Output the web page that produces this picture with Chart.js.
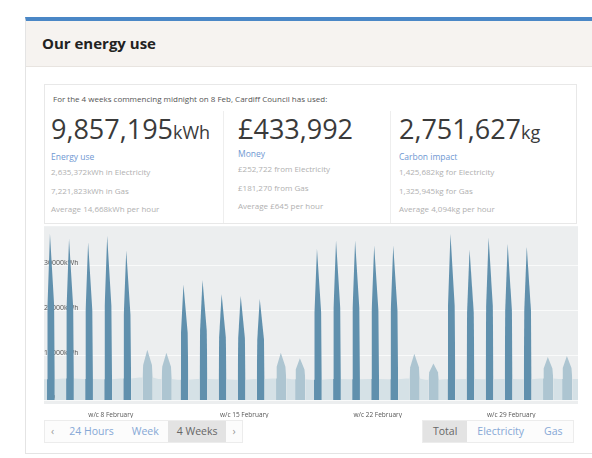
<!DOCTYPE html>
<html>
<head>
<meta charset="utf-8">
<script src="https://cdn.jsdelivr.net/npm/chart.js@4"></script>
<style>
  html,body{margin:0;padding:0;background:#fff;width:592px;height:458px;overflow:hidden;font-family:"Open Sans",sans-serif;}
  .card{position:absolute;left:25px;top:17px;width:580px;height:432px;border:1px solid #e4e4e4;border-top:4px solid #4a87c6;background:#fff;}
  .head{height:45px;background:#f6f3f0;border-bottom:1px solid #e8e4e0;}
  .head h2{margin:0;position:absolute;left:16px;top:12px;font-size:15px;font-weight:700;color:#222;}
  .stats{position:absolute;left:44px;top:84px;width:531px;height:138px;border:1px solid #e8e8e8;background:#fff;}
  .intro{position:absolute;left:8px;top:8px;font-size:8px;color:#555;white-space:nowrap;}
  .col{position:absolute;top:26px;height:112px;}
  .col.c2,.col.c3{border-left:1px solid #eee;}
  .big{font-size:27px;color:#3a3a3a;white-space:nowrap;line-height:36px;}
  .big small{font-size:18px;}
  .lbl{font-size:8.5px;color:#6f98d2;line-height:13px;}
  .sub{font-size:8px;color:#b0b0b0;line-height:18.5px;white-space:nowrap;}
  #wrap{position:absolute;left:44px;top:222px;width:534px;height:196px;}
  .ctl{position:absolute;top:420px;height:21px;border:1px solid #ececec;background:#fcfcfc;font-size:10.5px;color:#86a8d6;line-height:21px;white-space:nowrap;}
  .ctl span{display:inline-block;padding:0 9px;}
  .ctl .on{background:#e3e3e3;color:#666;}
  .ctl .ar{color:#999;padding:0 6px;}
  .ctl.r span{padding:0 10px;}
</style>
</head>
<body>
<div class="card"><div class="head"><h2>Our energy use</h2></div></div>
<div class="stats">
  <div class="intro">For the 4 weeks commencing midnight on 8 Feb, Cardiff Council has used:</div>
  <div class="col c1" style="left:6px;width:170px;">
    <div class="big">9,857,195<small>kWh</small></div>
    <div class="lbl">Energy use</div>
    <div class="sub">2,635,372kWh in Electricity</div>
    <div class="sub">7,221,823kWh in Gas</div>
    <div class="sub">Average 14,668kWh per hour</div>
  </div>
  <div class="col c2" style="left:178px;width:166px;padding-left:14px;">
    <div class="big">£433,992</div>
    <div class="lbl">Money</div>
    <div class="sub">£252,722 from Electricity</div>
    <div class="sub">£181,270 from Gas</div>
    <div class="sub">Average £645 per hour</div>
  </div>
  <div class="col c3" style="left:345px;width:180px;padding-left:8px;">
    <div class="big">2,751,627<small>kg</small></div>
    <div class="lbl">Carbon impact</div>
    <div class="sub">1,425,682kg for Electricity</div>
    <div class="sub">1,325,945kg for Gas</div>
    <div class="sub">Average 4,094kg per hour</div>
  </div>
</div>
<div id="wrap"><canvas id="c"></canvas></div>
<div class="ctl" style="left:44px;"><span class="ar">‹</span><span>24 Hours</span><span>Week</span><span class="on">4 Weeks</span><span class="ar">›</span></div>
<div class="ctl r" style="left:422px;"><span class="on">Total</span><span>Electricity</span><span>Gas</span></div>
<script>
// 4 weeks from Mon 8 Feb, one value per day
const weekLabels=['w/c 8 February','w/c 15 February','w/c 22 February','w/c 29 February'];
const peakKwh=[
  37000,35900,35100,36600,33300,11200,10500,
  25700,26700,23600,23200,22500,10500,9300,
  33700,35500,35500,34400,34400,10300,8100,
  37000,33500,36200,34800,34200,9600,9800
];
// level where the spike stops being a straight column and starts to taper
const shoulderKwh=[
  21000,20500,20000,21000,19000,7800,7400,
  15000,15500,14000,13800,13500,7400,6800,
  19500,20500,20500,20000,20000,7300,6200,
  21000,19500,21000,20000,20000,7000,7100
];
const nightKwh=[
  4600,4800,4700,4600,4800,5000,4700,
  4500,4700,4600,4500,4700,4800,4600,
  4500,4700,4600,4700,4600,4800,4500,
  4600,4700,4600,4700,4600,4800,4700
];
const yTicks=[0,10000,20000,30000];
// hour offsets within a day: night, rise, shoulder, peak, shoulder, night
const weekdayShape=[0,3.8,4.4,7.5,12.8,13.6];
const weekendShape=[0,4,4.8,10,15.8,16.8];

const dark='#6090ad', mid='#adc5d1', light='#d5e1e6';

const points=[];
peakKwh.forEach((pk,d)=>{
  const shp=(d%7)<5?weekdayShape:weekendShape;
  const n=nightKwh[d], s=shoulderKwh[d];
  const vals=[n,n,s,pk,s,n];
  shp.forEach((h,i)=>points.push({x:d*24+h,y:vals[i]}));
});
points.push({x:672,y:nightKwh[nightKwh.length-1]});

const bgPlugin={
  id:'bg',
  beforeDraw(chart){
    const {ctx,chartArea:a}=chart;
    ctx.save();
    ctx.fillStyle='#eceeef';
    ctx.fillRect(a.left,a.top,a.right-a.left,a.bottom-a.top+4);
    ctx.restore();
  }
};

new Chart(document.getElementById('c'),{
  type:'line',
  data:{datasets:[{
    data:points,
    fill:'origin',
    borderWidth:0,
    pointRadius:0,
    tension:0,
    backgroundColor:light,
    segment:{
      backgroundColor:ctx=>{
        const v=Math.max(ctx.p0.parsed.y,ctx.p1.parsed.y);
        return v>12000?dark:(v>6000?mid:light);
      }
    }
  }]},
  options:{
    responsive:true,
    maintainAspectRatio:false,
    animation:false,
    layout:{padding:0},
    plugins:{legend:{display:false},tooltip:{enabled:false}},
    scales:{
      x:{
        type:'linear',min:0,max:672,
        afterBuildTicks:s=>{s.ticks=weekLabels.map((_,i)=>({value:i*168+84}));},
        afterFit:s=>{s.height=18;},
        grid:{display:false},
        border:{display:false},
        ticks:{autoSkip:false,maxRotation:0,padding:3,color:'#555',font:{family:'Open Sans',size:6.5},
          callback:(v)=>weekLabels[Math.round((v-84)/168)]}
      },
      y:{
        min:0,max:38700,
        afterBuildTicks:s=>{s.ticks=yTicks.map(v=>({value:v}));},
        afterFit:s=>{s.width=0;},
        position:'left',
        grid:{color:'rgba(255,255,255,0.7)',drawTicks:false,lineWidth:1},
        border:{display:false},
        ticks:{display:false}
      },
      // same scale again, only for the labels drawn over the spikes
      yLabels:{
        min:0,max:38700,z:1,
        afterBuildTicks:s=>{s.ticks=yTicks.map(v=>({value:v}));},
        afterFit:s=>{s.width=0;},
        position:'left',
        grid:{display:false},
        border:{display:false},
        ticks:{mirror:true,padding:0,labelOffset:-2,color:'#555',font:{family:'Open Sans',size:7},
          callback:v=>v+'kWh'}
      }
    }
  },
  plugins:[bgPlugin]
});
</script>
</body>
</html>
